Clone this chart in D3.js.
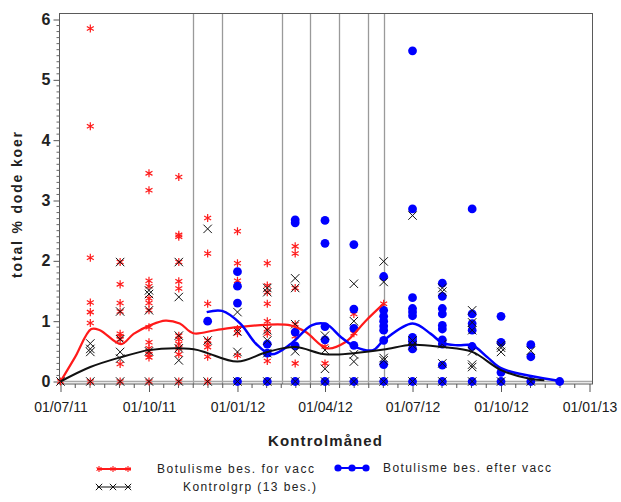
<!DOCTYPE html>
<html>
<head>
<meta charset="utf-8">
<script src="https://cdn.jsdelivr.net/npm/d3@7"></script>
<style>
body { margin: 0; background: #fff; }
text { font-family: "Liberation Sans", Arial, sans-serif; }
</style>
</head>
<body>
<div id="chart"></div>
<script>
// control months (1st of month), one column of dots per month
var months = ["2011-07-01","2011-08-01","2011-09-01","2011-10-01","2011-11-01","2011-12-01",
	"2012-01-01","2012-02-01","2012-03-01","2012-04-01","2012-05-01","2012-06-01",
	"2012-07-01","2012-08-01","2012-09-01","2012-10-01","2012-11-01","2012-12-01"];

// Botulisme bes. for vacc (red stars)
var forVacc = [
	[0],
	[5.85,4.23,2.05,1.31,1.15,0.97,0],
	[1.98,1.61,1.30,1.16,0.79,0.75,0.70,0.29,0],
	[3.45,3.17,1.67,1.58,1.38,1.30,1.18,0.90,0.65,0.55,0.50,0.45,0.40,0],
	[3.39,2.43,2.40,1.98,1.66,1.54,0.76,0.70,0.62,0.55,0.45,0],
	[2.71,2.12,1.29,0.68,0.62,0.57,0.41,0],
	[2.49,1.96,1.67,1.30,0.87,0.80,0.43],
	[1.96,1.59,1.48,1.29,1.00,0.87,0.79,0.34],
	[2.24,2.12,1.55,0.95,0.75,0.30],
	[0.58,0.30],
	[1.12,0.80],
	[1.29],
	[],[],[],[],[],[]
];

// Botulisme bes. efter vacc (blue dots)
var efterVacc = [
	[],[],[],[],[],
	[1.00],
	[1.82,1.58,1.30,0],
	[0.62,0.47,0],
	[2.68,2.63,0.82,0.59,0],
	[2.67,2.29,0.91,0.69,0],
	[2.27,1.20,0.88,0.60,0],
	[1.74,1.18,1.08,1.00,0.92,0.85,0.68,0.28,0],
	[5.48,2.86,1.39,1.21,1.15,1.09,0.73,0.68,0.62,0.54,0],
	[1.63,1.41,1.21,1.12,0.93,0.87,0.69,0.62,0.27,0],
	[2.86,1.12,0.96,0.85,0.58,0],
	[1.08,0.65,0.15,0],
	[0.61,0.41,0],
	[0]
];

// Kontrolgrp (13 bes.) (black x)
var kontrol = [
	[0],
	[0.63,0.54,0.49,0],
	[1.98,1.16,0.70,0.49,0.38,0],
	[1.51,1.45,1.18,0.50,0],
	[1.98,1.40,0.76,0.55,0.35,0],
	[2.53,0.68,0],
	[1.15,0.83,0.49,0],
	[1.55,1.48,0.85,0.68,0.47,0],
	[1.71,1.55,0.95,0.50,0],
	[0.76,0.52,0.21,0],
	[1.62,1.00,0.45,0.33,0],
	[1.99,1.65,0.39,0.35,0],
	[2.75,0.68,0.60,0],
	[1.55,1.49,0.62,0.30,0],
	[1.18,0.98,0.85,0.50,0.28,0.24,0],
	[0.60,0.56,0.49,0],
	[0.51,0],
	[]
];

// smoothed trend curves
var redCurveDates = ["2011-07-01","2011-07-16","2011-08-02","2011-08-11","2011-09-02","2011-09-15","2011-10-02","2011-10-18","2011-11-02","2011-11-16","2011-12-09","2012-01-01","2012-01-30","2012-02-25","2012-03-12","2012-04-03","2012-04-22","2012-05-13","2012-06-01"];
var redCurveVals  = [0,0.40,0.87,0.85,0.62,0.79,0.93,1.01,0.96,0.80,0.85,0.90,0.94,0.93,0.82,0.55,0.65,1.00,1.29];

var blueCurveDates = ["2011-11-30","2011-12-16","2012-01-04","2012-01-20","2012-02-05","2012-02-26","2012-03-18","2012-04-02","2012-04-18","2012-05-03","2012-05-21","2012-06-01","2012-07-01","2012-07-20","2012-08-01","2012-08-17","2012-09-01","2012-09-17","2012-10-01","2012-11-01","2012-12-01"];
var blueCurveVals  = [1.15,1.17,0.96,0.63,0.45,0.63,0.93,0.95,0.73,0.57,0.52,0.68,0.96,0.79,0.64,0.60,0.60,0.40,0.22,0.09,0.01];

var blackCurveDates = ["2011-07-01","2011-08-01","2011-09-01","2011-10-01","2011-11-01","2011-11-21","2011-12-01","2012-01-01","2012-02-01","2012-03-01","2012-04-01","2012-05-01","2012-06-01","2012-07-01","2012-08-01","2012-09-01","2012-10-01","2012-11-01","2012-11-15"];
var blackCurveVals  = [0,0.24,0.40,0.52,0.55,0.52,0.47,0.33,0.49,0.57,0.45,0.47,0.53,0.61,0.57,0.49,0.19,0.04,0.02];

// vaccination reference lines
var vaccDates = ["2011-11-16","2011-12-16","2012-02-16","2012-03-16","2012-04-16","2012-05-16","2012-06-01"];

var xTickDates = ["2011-07-01","2011-10-01","2012-01-01","2012-04-01","2012-07-01","2012-10-01","2013-01-01"];
var yTicks = [0,1,2,3,4,5,6];

var parse = d3.timeParse("%Y-%m-%d");
var W = 621, H = 502;
var fL = 59.5, fR = 592.5, fT = 13.5, fB = 384;

var svg = d3.select("#chart").append("svg")
	.attr("width", W).attr("height", H);

var x = d3.scaleTime()
	.domain([parse("2011-07-01"), parse("2013-01-01")])
	.range([60.5, 589.5]);
var y = d3.scaleLinear().domain([0, 6]).range([381.5, 19.5]);

function flatten(arr){
	var out = [];
	months.forEach(function(m, i){
		arr[i].forEach(function(v){ out.push({d: parse(m), v: v}); });
	});
	return out;
}

// vertical reference lines
svg.selectAll(".vref").data(vaccDates).enter().append("line")
	.attr("x1", function(d){ return Math.round(x(parse(d))) + 0.5; })
	.attr("x2", function(d){ return Math.round(x(parse(d))) + 0.5; })
	.attr("y1", fT).attr("y2", fB)
	.style("stroke", "#9a9a9a").style("stroke-width", 1.3);

// zero line
svg.append("line")
	.attr("x1", fL).attr("x2", fR).attr("y1", y(0)).attr("y2", y(0))
	.style("stroke", "#a8a8a8").style("stroke-width", 1.5);

// frame
svg.append("rect")
	.attr("x", fL).attr("y", fT).attr("width", fR - fL).attr("height", fB - fT)
	.style("fill", "none").style("stroke", "#5a5a5a").style("stroke-width", 1);

// x axis
var xAxis = d3.axisBottom(x)
	.tickValues(xTickDates.map(parse))
	.tickSize(8).tickPadding(16)
	.tickFormat(d3.timeFormat("%d/%m/%y"));
var gx = svg.append("g").attr("transform", "translate(0," + fB + ")").call(xAxis);
gx.select(".domain").remove();
gx.selectAll("line").style("stroke", "#555");
gx.selectAll("text").style("font-size", "14px").style("fill", "#1a1a1a")
	.attr("dy", "0.3em");

// minor x ticks: 5 between each major
var xMinor = [];
for (var i = 0; i < xTickDates.length - 1; i++) {
	var a = x(parse(xTickDates[i])), b = x(parse(xTickDates[i + 1]));
	for (var k = 1; k < 6; k++) xMinor.push(a + (b - a) * k / 6);
}
svg.selectAll(".xminor").data(xMinor).enter().append("line")
	.attr("x1", function(d){ return d; }).attr("x2", function(d){ return d; })
	.attr("y1", fB).attr("y2", fB + 4)
	.style("stroke", "#555");

// y axis
var yAxis = d3.axisLeft(y).tickValues(yTicks).tickSize(6).tickPadding(3)
	.tickFormat(d3.format("d"));
var gy = svg.append("g").attr("transform", "translate(" + fL + ",0)").call(yAxis);
gy.select(".domain").remove();
gy.selectAll("line").style("stroke", "#555");
gy.selectAll("text").style("font-size", "16px").style("font-weight", "bold").style("fill", "#222");

var yMinor = d3.range(0, 61).filter(function(d){ return d % 10 != 0; }).map(function(d){ return d / 10; });
svg.selectAll(".yminor").data(yMinor).enter().append("line")
	.attr("x1", fL - 3).attr("x2", fL)
	.attr("y1", function(d){ return y(d); }).attr("y2", function(d){ return y(d); })
	.style("stroke", "#666");

// axis titles
svg.append("text")
	.attr("transform", "translate(22,205) rotate(-90)")
	.attr("text-anchor", "middle")
	.attr("textLength", 146).attr("lengthAdjust", "spacing")
	.style("font-size", "14px").style("font-weight", "bold").style("fill", "#222")
	.text("total % dode koer");

svg.append("text")
	.attr("x", 325).attr("y", 446)
	.attr("text-anchor", "middle")
	.attr("textLength", 114).attr("lengthAdjust", "spacing")
	.style("font-size", "15px").style("font-weight", "bold").style("fill", "#222")
	.text("Kontrolmåned");

// markers
var star = d3.symbol().type(d3.symbolAsterisk).size(45);
var cross = d3.symbol().type(d3.symbolX).size(48);
var starSmall = d3.symbol().type(d3.symbolAsterisk).size(24);
var crossSmall = d3.symbol().type(d3.symbolX).size(28);

var red = "#ff1a1a", blue = "#0000ff";

svg.append("g").selectAll("path").data(flatten(forVacc)).enter().append("path")
	.attr("d", star)
	.attr("transform", function(d){ return "translate(" + x(d.d) + "," + y(d.v) + ")"; })
	.style("fill", "none").style("stroke", red).style("stroke-width", 1.2);

svg.append("g").selectAll("circle").data(flatten(efterVacc)).enter().append("circle")
	.attr("cx", function(d){ return x(d.d); })
	.attr("cy", function(d){ return y(d.v); })
	.attr("r", 4.4)
	.style("fill", blue);

svg.append("g").selectAll("path").data(flatten(kontrol)).enter().append("path")
	.attr("d", cross)
	.attr("transform", function(d){ return "translate(" + x(d.d) + "," + y(d.v) + ")"; })
	.style("fill", "none").style("stroke", "#111").style("stroke-width", 1);

// trend curves
function curve(dates, vals){
	return d3.line().curve(d3.curveCatmullRom.alpha(0.5))
		.x(function(d){ return x(parse(d)); })
		.y(function(d, i){ return y(vals[i]); })(dates);
}
svg.append("path").attr("d", curve(redCurveDates, redCurveVals))
	.style("fill", "none").style("stroke", red).style("stroke-width", 2.2);
svg.append("path").attr("d", curve(blueCurveDates, blueCurveVals))
	.style("fill", "none").style("stroke", blue).style("stroke-width", 2.5);
svg.append("path").attr("d", curve(blackCurveDates, blackCurveVals))
	.style("fill", "none").style("stroke", "#111").style("stroke-width", 2);

// legend
var leg = svg.append("g");
leg.append("line").attr("x1", 97).attr("x2", 131).attr("y1", 469).attr("y2", 469)
	.style("stroke", red).style("stroke-width", 2);
leg.selectAll(".ls").data([99, 113, 128]).enter().append("path")
	.attr("d", starSmall)
	.attr("transform", function(d){ return "translate(" + d + ",469)"; })
	.style("fill", "none").style("stroke", red).style("stroke-width", 1.1);

leg.append("line").attr("x1", 97).attr("x2", 131).attr("y1", 487).attr("y2", 487)
	.style("stroke", "#111").style("stroke-width", 1.2);
leg.selectAll(".lx").data([99, 113, 128]).enter().append("path")
	.attr("d", crossSmall)
	.attr("transform", function(d){ return "translate(" + d + ",487)"; })
	.style("fill", "none").style("stroke", "#111").style("stroke-width", 1);

leg.append("line").attr("x1", 337).attr("x2", 367).attr("y1", 468).attr("y2", 468)
	.style("stroke", blue).style("stroke-width", 2);
leg.selectAll(".lb").data([338, 352, 366]).enter().append("circle")
	.attr("cx", function(d){ return d; }).attr("cy", 468).attr("r", 3.6)
	.style("fill", blue);

var legTexts = [
	{t: "Botulisme bes. for vacc", x: 157, y: 473, w: 157},
	{t: "Botulisme bes. efter vacc", x: 383, y: 472, w: 168},
	{t: "Kontrolgrp (13 bes.)", x: 183, y: 491, w: 133}
];
leg.selectAll(".lt").data(legTexts).enter().append("text")
	.attr("x", function(d){ return d.x; }).attr("y", function(d){ return d.y; })
	.attr("textLength", function(d){ return d.w; }).attr("lengthAdjust", "spacing")
	.style("font-size", "12px").style("fill", "#222")
	.text(function(d){ return d.t; });
</script>
</body>
</html>
